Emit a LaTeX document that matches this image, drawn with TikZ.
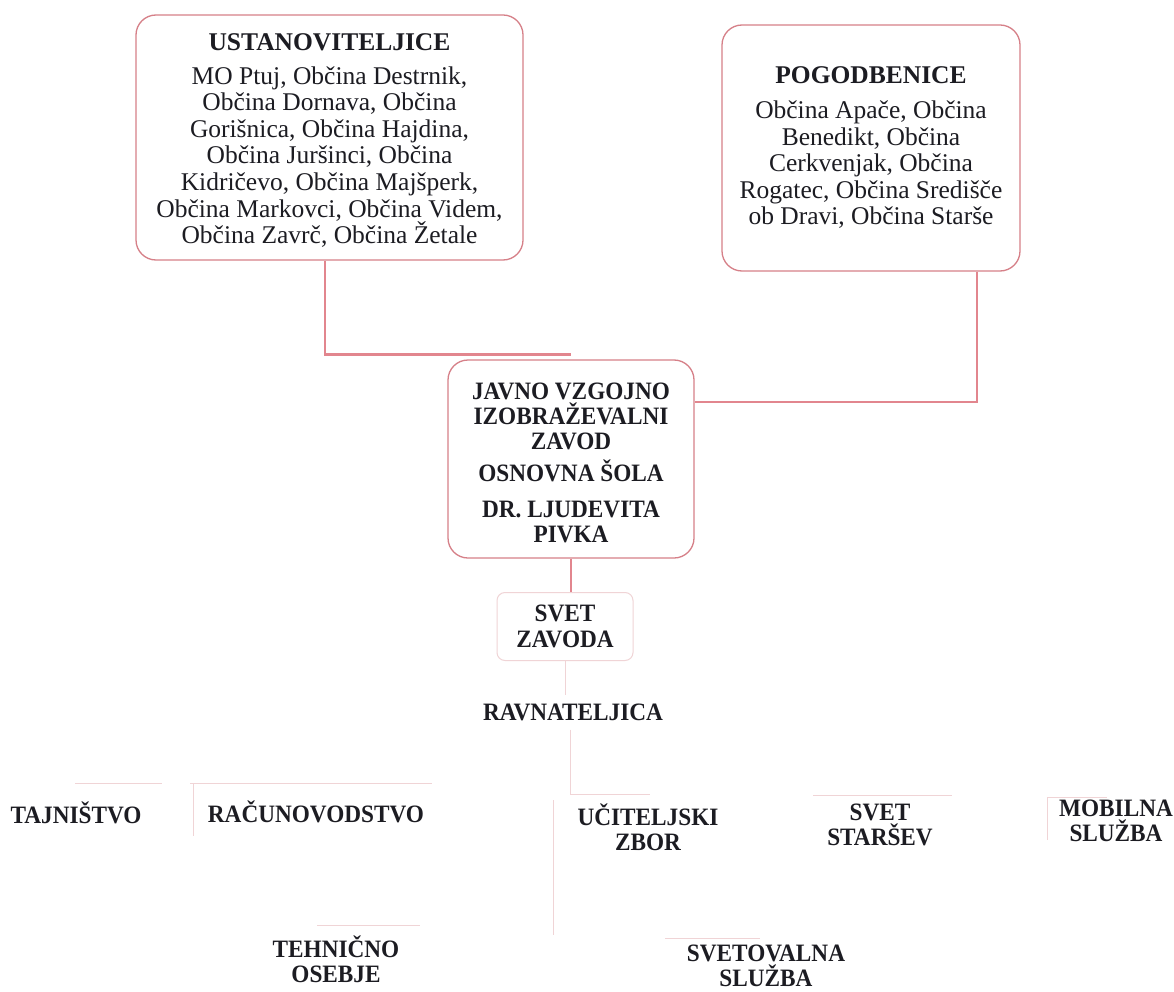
\documentclass[tikz,border=0pt]{standalone}
\usepackage{fontspec}
\setmainfont{Liberation Serif}
\newfontfamily\condfont[FakeStretch=0.93]{Liberation Serif}
\definecolor{boxc}{RGB}{214,128,136}
\definecolor{linec}{RGB}{226,134,142}
\definecolor{faintc}{RGB}{240,212,214}
\definecolor{textc}{RGB}{28,28,34}
\begin{document}
\begin{tikzpicture}[x=1pt,y=-1pt,
  bigbox/.style={draw=boxc, line width=1.3pt, rounded corners=20pt, fill=white,
    align=center, inner sep=0pt, text=textc,
    font=\fontsize{25.5}{26.6}\selectfont},
  midbox/.style={draw=boxc, line width=1.3pt, rounded corners=20pt, fill=white,
    align=center, inner sep=0pt, text=textc,
    font=\condfont\bfseries\fontsize{25}{25}\selectfont},
  smallbox/.style={draw=faintc, line width=1pt, rounded corners=8pt, fill=white,
    align=center, inner sep=0pt, text=textc,
    font=\condfont\bfseries\fontsize{25}{26}\selectfont},
  unit/.style={align=center, inner sep=0pt, text=textc,
    font=\condfont\bfseries\fontsize{25}{25}\selectfont},
  conn/.style={draw=linec, line width=1.4pt},
  fconn/.style={draw=faintc, line width=1pt}
]
\useasboundingbox (0,0) rectangle (1174,992);
\fill[white] (0,0) rectangle (1174,992);

\node[bigbox, minimum width=387pt, minimum height=245pt] (ustan) at (329.5,137.5)
  {\rule{0pt}{23pt}\textbf{USTANOVITELJICE}\\[7pt]
   MO Ptuj, Občina Destrnik,\\
   Občina Dornava, Občina\\
   Gorišnica, Občina Hajdina,\\
   Občina Juršinci, Občina\\
   Kidričevo, Občina Majšperk,\\
   Občina Markovci, Občina Videm,\\
   Občina Zavrč, Občina Žetale};

\node[bigbox, minimum width=298pt, minimum height=246pt] (pogod) at (871,148)
  {\textbf{POGODBENICE}\\[8pt]
   Občina Apače, Občina\\
   Benedikt, Občina\\
   Cerkvenjak, Občina\\
   Rogatec, Občina Središče\\
   ob Dravi, Občina Starše};

\node[midbox, minimum width=246pt, minimum height=198pt] (javno) at (571,459)
  {\rule{0pt}{25pt}JAVNO VZGOJNO\\
   IZOBRAŽEVALNI\\
   ZAVOD\\[7pt]
   OSNOVNA ŠOLA\\[11pt]
   DR. LJUDEVITA\\
   PIVKA};

\node[smallbox, minimum width=136pt, minimum height=68pt] (svetz) at (565,626.5)
  {SVET\\ ZAVODA};

\node[unit] (ravn) at (573,712) {RAVNATELJICA};
\node[unit] (tajn) at (76,813) {TAJNIŠTVO};
\node[unit] (racun) at (316,812) {RAČUNOVODSTVO};
\node[unit] (ucit) at (648,827) {UČITELJSKI\\ ZBOR};
\node[unit] (svets) at (880,825) {SVET\\ STARŠEV};
\node[unit] (mobil) at (1116,821) {MOBILNA\\ SLUŽBA};
\node[unit] (tehn) at (336,959) {TEHNIČNO\\ OSEBJE};
\node[unit] (svetov) at (766,966) {SVETOVALNA\\ SLUŽBA};

% main connectors
\draw[conn, line width=2.8pt] ([xshift=-4.5pt]ustan.south) |- ([yshift=5pt]javno.north);
\draw[conn] ([xshift=106pt]pogod.south) |- ([yshift=57pt]javno.east);
\draw[conn] (javno.south) -- (javno.south |- svetz.north);

% faint remnants
\coordinate (bus) at (570,794);
\draw[fconn] (svetz.south) -- ([yshift=8pt]ravn.north -| svetz.south);
\draw[fconn] ([yshift=-9pt]ravn.south -| bus) -- (bus) -- (650,794);
\draw[fconn] (75,783) -- (162,783);
\draw[fconn] (190,783) -- (432,783);
\draw[fconn] (193,783) -- (193,836);
\draw[fconn] (553,800) -- (553,935);
\draw[fconn] (813,795) -- (952,795);
\draw[fconn] (1047,797) -- (1107,797);
\draw[fconn] (1047,797) -- (1047,840);
\draw[fconn] (317,925) -- (420,925);
\draw[fconn] (665,938) -- (760,938);
\end{tikzpicture}
\end{document}
